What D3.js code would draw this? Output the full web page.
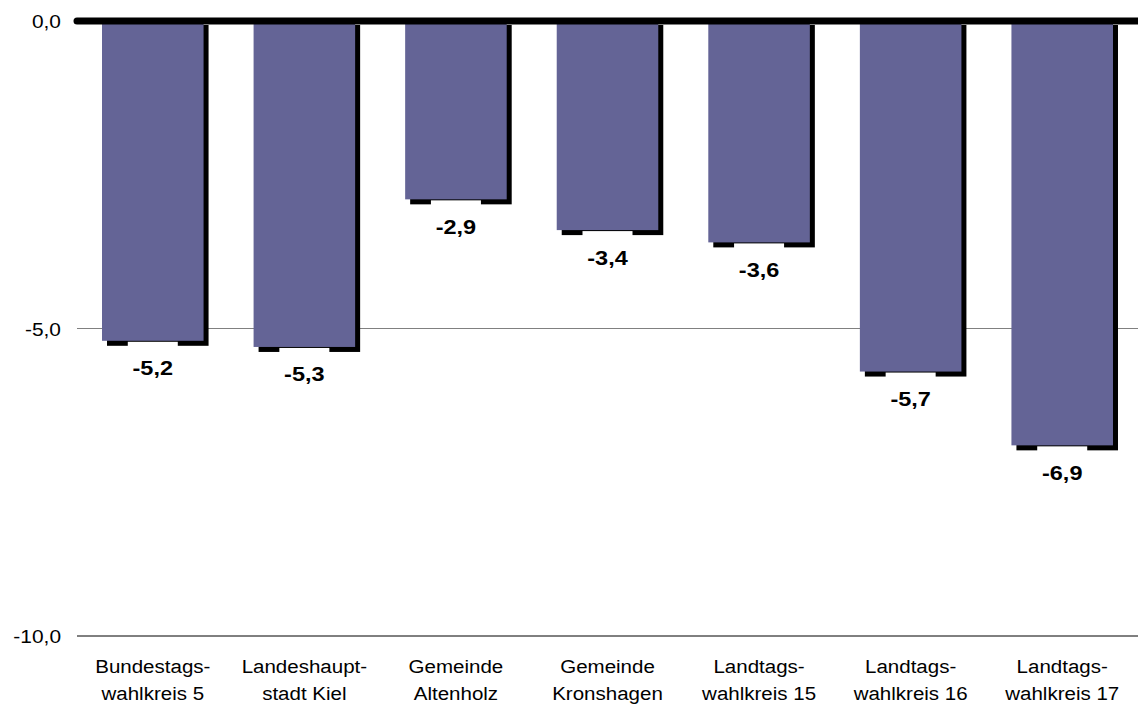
<!DOCTYPE html>
<html><head><meta charset="utf-8">
<script src="https://cdn.jsdelivr.net/npm/d3@7"></script>
<style>body{margin:0;background:#fff}svg{display:block}text{font-family:"Liberation Sans",Arial,sans-serif}</style>
</head><body><svg id="c" width="1138" height="707"></svg>
<script>
const categories = [["Bundestags-","wahlkreis 5"],["Landeshaupt-","stadt Kiel"],["Gemeinde","Altenholz"],["Gemeinde","Kronshagen"],["Landtags-","wahlkreis 15"],["Landtags-","wahlkreis 16"],["Landtags-","wahlkreis 17"]];
const values = [-5.2,-5.3,-2.9,-3.4,-3.6,-5.7,-6.9];
const yTicks = [0,-5,-10];

const svg = d3.select("#c");
const x = d3.scaleBand().domain(d3.range(categories.length)).range([77,1138]).paddingInner(0.33).paddingOuter(0.165);
const y = d3.scaleLinear().domain([-10,0]).range([636,21]);
const fmt = v => d3.format(".1f")(v).replace(".",",").replace("−","-");

// gridlines
svg.selectAll("line.grid").data(yTicks.filter(d=>d!==0)).join("line")
  .attr("x1",77).attr("x2",1138).attr("y1",d=>y(d)).attr("y2",d=>y(d))
  .attr("stroke",d=>d===-10?"#000":"#808080").attr("stroke-width",1);
// tick labels
svg.selectAll("text.yt").data(yTicks).join("text")
  .attr("transform",d=>`translate(61,${y(d)+7}) scale(1.1,1)`).attr("text-anchor","end")
  .attr("font-size",19).text(fmt);

const g = svg.selectAll("g.bar").data(values).join("g");
// shadows
g.append("rect").attr("x",(d,i)=>x(i)+5).attr("y",y(0)+4)
  .attr("width",x.bandwidth()).attr("height",d=>y(d)-y(0)+1).attr("fill","#000");
// bars
g.append("rect").attr("x",(d,i)=>x(i)).attr("y",y(0))
  .attr("width",x.bandwidth()).attr("height",d=>y(d)-y(0)).attr("fill","#646496");
// label backgrounds
g.append("rect").attr("x",(d,i)=>x(i)+x.bandwidth()/2-25).attr("y",d=>y(d)+1)
  .attr("width",50).attr("height",40).attr("fill","#fff");
// zero line
svg.append("line").attr("x1",77).attr("x2",1138).attr("y1",y(0)).attr("y2",y(0))
  .attr("stroke","#000").attr("stroke-width",7).attr("stroke-linecap","round");
// value labels
g.append("text").attr("transform",(d,i)=>`translate(${x(i)+x.bandwidth()/2},${y(d)+34.5}) scale(1.12,1)`)
  .attr("text-anchor","middle").attr("font-size",21).attr("font-weight","bold").text(fmt);
// category labels
categories.forEach((lines,i)=>{
  lines.forEach((s,j)=>{
    svg.append("text").attr("transform",`translate(${x(i)+x.bandwidth()/2},${673+j*27}) scale(1.08,1)`)
      .attr("text-anchor","middle").attr("font-size",19).text(s);
  });
});
</script></body></html>
